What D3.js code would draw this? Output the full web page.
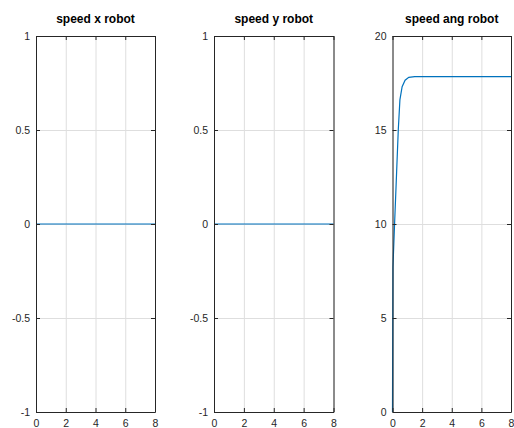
<!DOCTYPE html>
<html>
<head>
<meta charset="utf-8">
<script src="https://cdn.jsdelivr.net/npm/d3@7"></script>
<style>
  body { margin: 0; background: #fff; }
  text { font-family: "Liberation Sans", Arial, sans-serif; }
</style>
</head>
<body>
<svg id="chart" width="514" height="428"></svg>
<script>
// data
var titles = ["speed x robot", "speed y robot", "speed ang robot"];
var xTicks = [0, 2, 4, 6, 8];
var yTicksLin = [-1, -0.5, 0, 0.5, 1];
var yTickLabelsLin = ["-1", "-0.5", "0", "0.5", "1"];
var yTicksAng = [0, 5, 10, 15, 20];
var yTickLabelsAng = ["0", "5", "10", "15", "20"];

var timeX = [0, 8];
var speedX = [0, 0];
var timeY = [0, 8];
var speedY = [0, 0];
var timeAng = [0, 0.01, 0.03, 0.14, 0.28, 0.39, 0.5, 0.65, 0.85, 1.1, 1.5, 2, 8];
var speedAng = [0, 3, 7.7, 10, 12.8, 15, 16.6, 17.3, 17.65, 17.8, 17.84, 17.84, 17.84];

var panels = [
  { title: titles[0], t: timeX, v: speedX, domain: [-1, 1], ticks: yTicksLin, labels: yTickLabelsLin, left: 36, right: 155 },
  { title: titles[1], t: timeY, v: speedY, domain: [-1, 1], ticks: yTicksLin, labels: yTickLabelsLin, left: 214, right: 333.5 },
  { title: titles[2], t: timeAng, v: speedAng, domain: [0, 20], ticks: yTicksAng, labels: yTickLabelsAng, left: 392.5, right: 511 }
];

var svg = d3.select("#chart"),
    plotTop = 36,
    plotBottom = 412,
    axisColor = "#262626";

panels.forEach(function (p) {
  var w = p.right - p.left,
      h = plotBottom - plotTop;

  var xScale = d3.scaleLinear().domain([0, 8]).range([0, w]),
      yScale = d3.scaleLinear().domain(p.domain).range([h, 0]);

  var g = svg.append("g")
      .attr("transform", "translate(" + p.left + "," + plotTop + ")");

  // grid
  g.append("g")
      .attr("transform", "translate(0," + h + ")")
      .call(d3.axisBottom(xScale).tickValues(xTicks).tickSize(-h).tickFormat(""))
      .call(function (s) {
        s.select(".domain").remove();
        s.selectAll("line").attr("stroke", "#dedede");
      });
  g.append("g")
      .call(d3.axisLeft(yScale).tickValues(p.ticks).tickSize(-w).tickFormat(""))
      .call(function (s) {
        s.select(".domain").remove();
        s.selectAll("line").attr("stroke", "#dedede");
      });

  // line
  var line = d3.line()
      .x(function (d, i) { return xScale(p.t[i]); })
      .y(function (d) { return yScale(d); });

  g.append("path")
      .datum(p.v)
      .attr("fill", "none")
      .attr("stroke", "#0072bd")
      .attr("stroke-width", 1.2)
      .attr("d", line);

  // axes, ticks pointing inwards on all sides
  function style(s) {
    s.select(".domain").attr("stroke", axisColor);
    s.selectAll(".tick line").attr("stroke", axisColor);
    s.selectAll("text")
        .attr("fill", axisColor)
        .style("font-size", "10.5px")
        .style("font-family", "'Liberation Sans', Arial, sans-serif");
  }

  g.append("g")
      .attr("transform", "translate(0," + h + ")")
      .call(d3.axisBottom(xScale).tickValues(xTicks).tickSizeInner(-4).tickSizeOuter(0).tickPadding(8)
        .tickFormat(function (d) { return d; }))
      .call(style);
  g.append("g")
      .call(d3.axisTop(xScale).tickValues(xTicks).tickSizeInner(-4).tickSizeOuter(0).tickFormat(""))
      .call(style);
  g.append("g")
      .call(d3.axisLeft(yScale).tickValues(p.ticks).tickSizeInner(-4).tickSizeOuter(0).tickPadding(6)
        .tickFormat(function (d, i) { return p.labels[i]; }))
      .call(style);
  g.append("g")
      .attr("transform", "translate(" + w + ",0)")
      .call(d3.axisRight(yScale).tickValues(p.ticks).tickSizeInner(-4).tickSizeOuter(0).tickFormat(""))
      .call(style);

  // title
  g.append("text")
      .attr("x", w / 2)
      .attr("y", -13)
      .attr("text-anchor", "middle")
      .attr("font-weight", "bold")
      .attr("font-size", "12px")
      .attr("fill", "#000")
      .text(p.title);
});
</script>
</body>
</html>
